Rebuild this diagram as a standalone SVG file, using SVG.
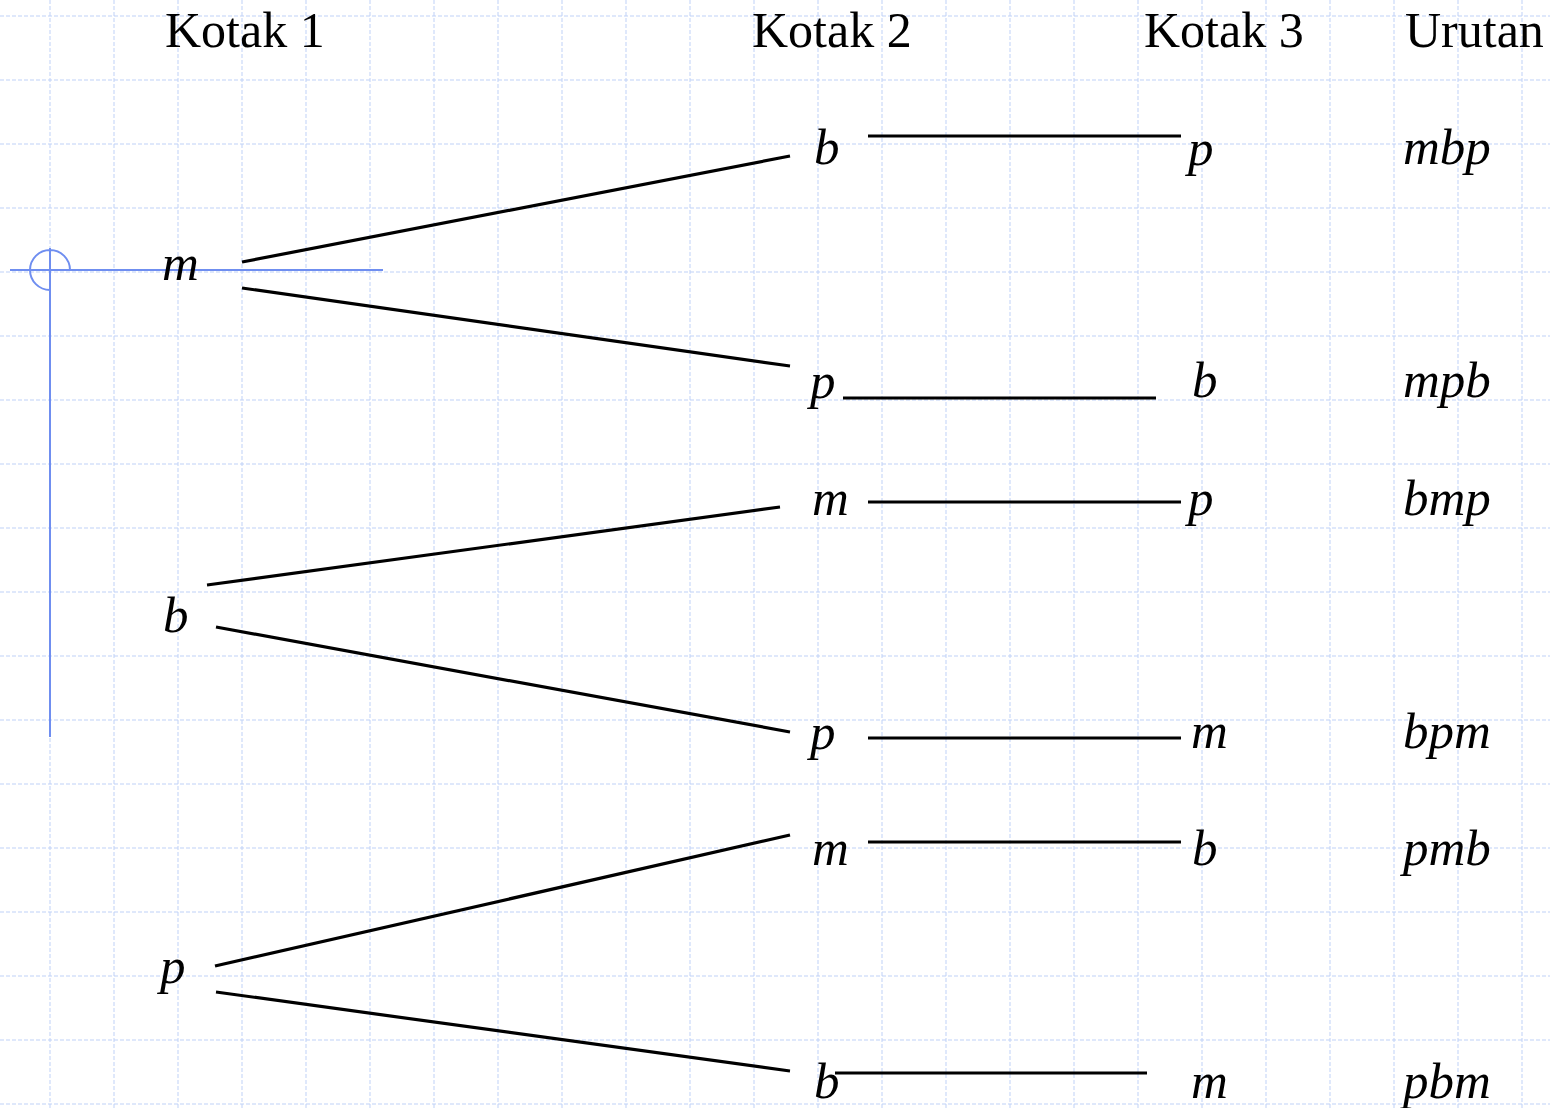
<svg xmlns="http://www.w3.org/2000/svg" width="1550" height="1108" viewBox="0 0 1550 1108">
<style>
.grid{stroke:#bfd1f7;stroke-width:1;stroke-dasharray:4 2;fill:none}
.guide{stroke:#6f8ef0;stroke-width:2;fill:none}
.edge{stroke:#000;stroke-width:3.2;fill:none}
.hdr{font-family:"Liberation Serif","Times New Roman",serif;font-size:50px;fill:#000}
.lbl{font-family:"Liberation Serif","Times New Roman",serif;font-size:51px;font-style:italic;fill:#000}
</style>
<rect width="1550" height="1108" fill="#fff"/>
<g id="grid">
<path class="grid" d="M50,0V1108M114,0V1108M178,0V1108M242,0V1108M306,0V1108M370,0V1108M434,0V1108M498,0V1108M562,0V1108M626,0V1108M690,0V1108M754,0V1108M818,0V1108M882,0V1108M946,0V1108M1010,0V1108M1074,0V1108M1138,0V1108M1202,0V1108M1266,0V1108M1330,0V1108M1394,0V1108M1458,0V1108M1522,0V1108"/>
<path class="grid" d="M0,16H1550M0,80H1550M0,144H1550M0,208H1550M0,272H1550M0,336H1550M0,400H1550M0,464H1550M0,528H1550M0,592H1550M0,656H1550M0,720H1550M0,784H1550M0,848H1550M0,912H1550M0,976H1550M0,1040H1550M0,1104H1550"/>
</g>
<g id="guide">
<path class="guide" d="M10,270H383M50,248V737M70,270A20,20 0 0 0 50,250A20,20 0 0 0 30,270A20,20 0 0 0 50,290"/>
</g>
<g id="headers">
<text class="hdr" x="165" y="47">Kotak 1</text>
<text class="hdr" x="752" y="47">Kotak 2</text>
<text class="hdr" x="1144" y="47">Kotak 3</text>
<text class="hdr" x="1405" y="47">Urutan</text>
</g>
<g id="connectors">
<line class="edge" x1="242" y1="262" x2="790" y2="156"/>
<line class="edge" x1="242" y1="288" x2="790" y2="366"/>
<line class="edge" x1="868" y1="136" x2="1181" y2="136"/>
<line class="edge" x1="843" y1="398" x2="1156" y2="398"/>
<line class="edge" x1="207" y1="585" x2="780" y2="507"/>
<line class="edge" x1="216" y1="627" x2="790" y2="732"/>
<line class="edge" x1="868" y1="502" x2="1181" y2="502"/>
<line class="edge" x1="868" y1="738" x2="1181" y2="738"/>
<line class="edge" x1="215" y1="966" x2="790" y2="835"/>
<line class="edge" x1="216" y1="992" x2="790" y2="1071"/>
<line class="edge" x1="868" y1="842" x2="1181" y2="842"/>
<line class="edge" x1="835" y1="1073" x2="1147" y2="1073"/>
</g>
<g id="k1-m"><text class="lbl" x="162" y="280">m</text></g>
<g id="k1-b"><text class="lbl" x="163" y="632">b</text></g>
<g id="k1-p"><text class="lbl" x="160" y="983">p</text></g>
<g id="k2-b1"><text class="lbl" x="814" y="164">b</text></g>
<g id="k2-p1"><text class="lbl" x="810" y="398">p</text></g>
<g id="k2-m1"><text class="lbl" x="812" y="515">m</text></g>
<g id="k2-p2"><text class="lbl" x="810" y="749">p</text></g>
<g id="k2-m2"><text class="lbl" x="812" y="865">m</text></g>
<g id="k2-b2"><text class="lbl" x="814" y="1098">b</text></g>
<g id="k3-p1"><text class="lbl" x="1188" y="165">p</text></g>
<g id="k3-b1"><text class="lbl" x="1192" y="397">b</text></g>
<g id="k3-p2"><text class="lbl" x="1188" y="515">p</text></g>
<g id="k3-m1"><text class="lbl" x="1191" y="748">m</text></g>
<g id="k3-b2"><text class="lbl" x="1192" y="865">b</text></g>
<g id="k3-m2"><text class="lbl" x="1191" y="1098">m</text></g>
<g id="u1"><text class="lbl" x="1403" y="164">mbp</text></g>
<g id="u2"><text class="lbl" x="1403" y="397">mpb</text></g>
<g id="u3"><text class="lbl" x="1403" y="515">bmp</text></g>
<g id="u4"><text class="lbl" x="1403" y="748">bpm</text></g>
<g id="u5"><text class="lbl" x="1403" y="865">pmb</text></g>
<g id="u6"><text class="lbl" x="1403" y="1098">pbm</text></g>
</svg>
